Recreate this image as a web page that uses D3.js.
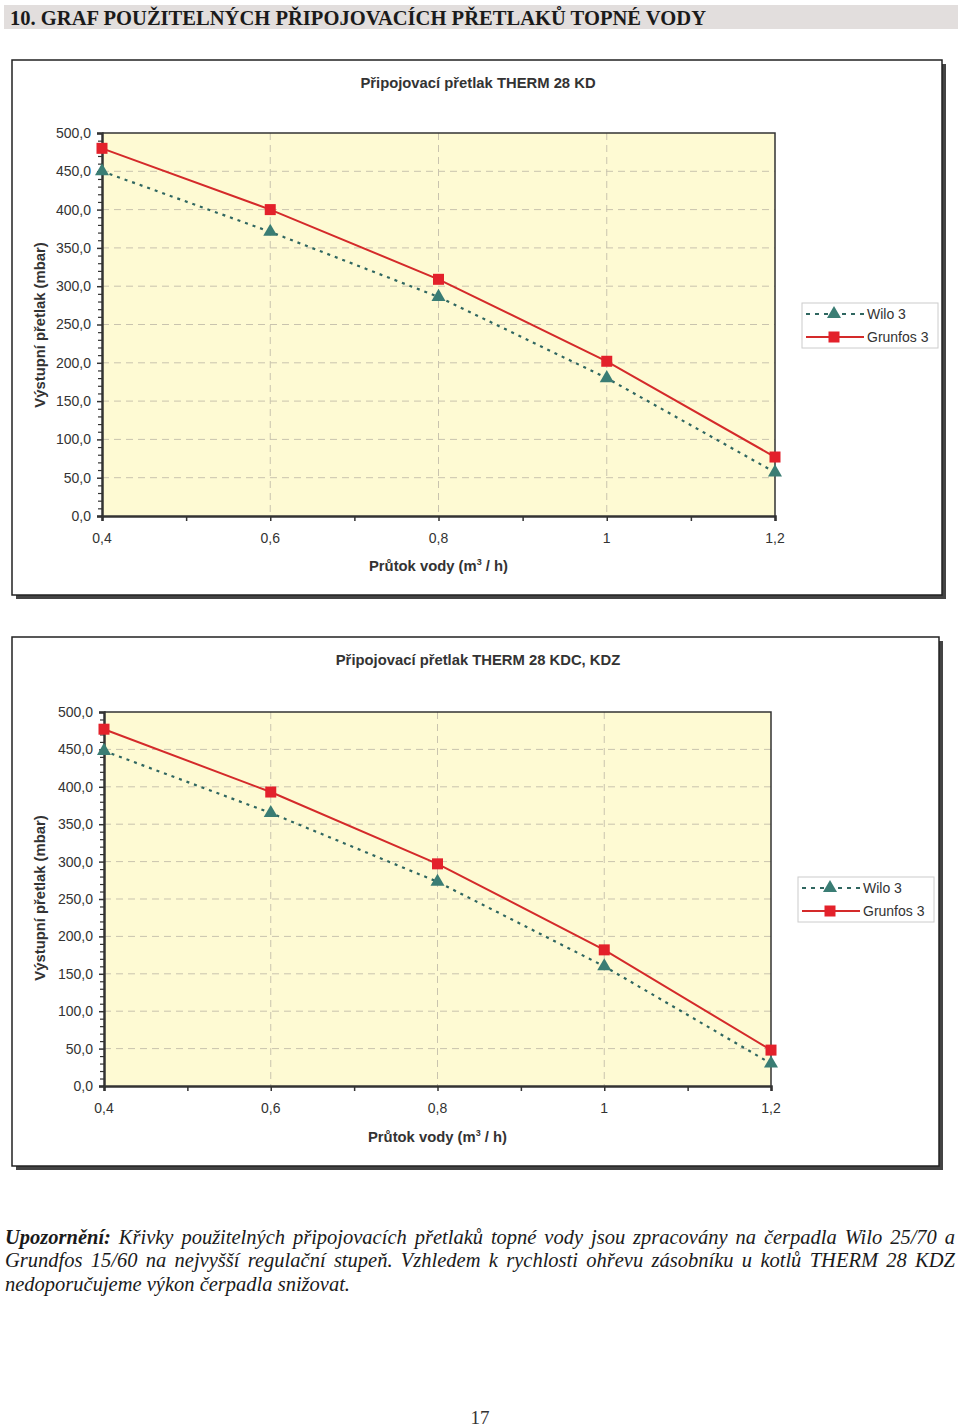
<!DOCTYPE html>
<html><head><meta charset="utf-8">
<script src="https://cdn.jsdelivr.net/npm/d3@7"></script>
<style>html,body{margin:0;padding:0;background:#fff}svg{display:block}</style>
</head><body>
<script>
// ---- data ----
const xValues = [0.4, 0.6, 0.8, 1.0, 1.2];
const wilo1 = [450, 371, 286, 180, 57];
const grunfos1 = [480, 400, 309, 202, 77];
const wilo2 = [448, 365, 273, 160, 30];
const grunfos2 = [477, 393, 297, 182, 48];
const yTicks = [0, 50, 100, 150, 200, 250, 300, 350, 400, 450, 500];
const xTicks = [0.4, 0.6, 0.8, 1.0, 1.2];
const xTickLabels = ["0,4", "0,6", "0,8", "1", "1,2"];
const seriesNames = ["Wilo 3", "Grunfos 3"];
const titles = ["Připojovací přetlak THERM 28 KD", "Připojovací přetlak THERM 28 KDC, KDZ"];
const yLabel = "Výstupní přetlak (mbar)";
const headerText = "10. GRAF POUŽITELNÝCH PŘIPOJOVACÍCH PŘETLAKŮ TOPNÉ VODY";
const noteLines = [
  ["Upozornění:", "Křivky použitelných připojovacích přetlaků topné vody jsou zpracovány na čerpadla Wilo 25/70 a"],
  ["", "Grundfos 15/60 na nejvyšší regulační stupeň. Vzhledem k rychlosti ohřevu zásobníku u kotlů THERM 28 KDZ"],
  ["", "nedoporučujeme výkon čerpadla snižovat."]
];
const pageNumber = "17";

const W = 960, H = 1427;
const svg = d3.select("body").append("svg").attr("width", W).attr("height", H);

// header
svg.append("rect").attr("x", 4).attr("y", 5).attr("width", 954).attr("height", 24).attr("fill", "#e2dedd");
svg.append("text").attr("x", 10).attr("y", 25).text(headerText)
  .attr("font-family", "Liberation Serif, Times New Roman, serif").attr("font-size", 22).attr("font-weight", "bold")
  .attr("fill", "#1a1a1a").attr("textLength", 696).attr("lengthAdjust", "spacingAndGlyphs");

const SANS = "Liberation Sans, Arial, sans-serif";
const TXT = "#333";
const RED = "#e3212b", REDLINE = "#d42a2a", TEAL = "#3a7d74", TEALLINE = "#2f6660";

const charts = [
  {frame: {x: 12, y: 60, w: 930, h: 535}, plot: {l: 102, r: 775, t: 133, b: 516},
   titleY: 88, xLabY: 543, xTitleY: 571, yTitleY: 325, legend: {x: 802, y: 303},
   wilo: wilo1, grunfos: grunfos1, title: titles[0]},
  {frame: {x: 12, y: 637, w: 927, h: 529}, plot: {l: 104, r: 771, t: 712, b: 1086},
   titleY: 665, xLabY: 1113, xTitleY: 1142, yTitleY: 898, legend: {x: 798, y: 877},
   wilo: wilo2, grunfos: grunfos2, title: titles[1]}
];

charts.forEach(c => {
  const g = svg.append("g");
  const f = c.frame, p = c.plot;
  g.append("rect").attr("x", f.x + 4).attr("y", f.y + 4).attr("width", f.w).attr("height", f.h).attr("fill", "#444");
  g.append("rect").attr("x", f.x).attr("y", f.y).attr("width", f.w).attr("height", f.h)
    .attr("fill", "#fff").attr("stroke", "#222").attr("stroke-width", 1.5);

  const x = d3.scaleLinear().domain([0.4, 1.2]).range([p.l, p.r]);
  const y = d3.scaleLinear().domain([0, 500]).range([p.b, p.t]);

  g.append("rect").attr("x", p.l).attr("y", p.t).attr("width", p.r - p.l).attr("height", p.b - p.t).attr("fill", "#fefad3");

  // grid
  g.append("g").selectAll("line").data(yTicks.filter(v => v > 0 && v < 500)).join("line")
    .attr("x1", p.l).attr("x2", p.r).attr("y1", d => y(d)).attr("y2", d => y(d))
    .attr("stroke", "#c9c3ae").attr("stroke-width", 1).attr("stroke-dasharray", "7,5");
  g.append("g").selectAll("line").data(xTicks.filter(v => v > 0.45 && v < 1.15)).join("line")
    .attr("x1", d => x(d)).attr("x2", d => x(d)).attr("y1", p.t).attr("y2", p.b)
    .attr("stroke", "#c9c3ae").attr("stroke-width", 1).attr("stroke-dasharray", "7,5");

  // plot border top/right
  g.append("path").attr("d", `M${p.l},${p.t}H${p.r}V${p.b}`).attr("fill", "none").attr("stroke", "#333").attr("stroke-width", 1.5);

  // y axis
  const yAxis = d3.axisLeft(y).tickValues(yTicks).tickFormat(d => d3.format(".1f")(d).replace(".", ",")).tickSize(5).tickPadding(6);
  const ya = g.append("g").attr("transform", `translate(${p.l},0)`).call(yAxis);
  ya.select(".domain").attr("stroke", "#333").attr("stroke-width", 2.5);
  ya.selectAll(".tick line").attr("stroke", "#333").attr("stroke-width", 1.5);
  ya.selectAll(".tick text").attr("font-family", SANS).attr("font-size", 14).attr("fill", TXT);
  const minorY = d3.range(0, 501, 10).filter(v => v % 50 !== 0);
  const yMinor = d3.axisLeft(y).tickValues(minorY).tickFormat("").tickSize(4);
  const ym = g.append("g").attr("transform", `translate(${p.l},0)`).call(yMinor);
  ym.select(".domain").remove();
  ym.selectAll(".tick line").attr("stroke", "#333").attr("stroke-width", 1.2);

  // x axis
  const xAxis = d3.axisBottom(x).tickValues(d3.range(0.4, 1.2001, 0.1)).tickFormat("").tickSize(5);
  const xa = g.append("g").attr("transform", `translate(0,${p.b})`).call(xAxis);
  xa.select(".domain").attr("stroke", "#333").attr("stroke-width", 2.5);
  xa.selectAll(".tick line").attr("stroke", "#333").attr("stroke-width", 1.5);
  g.append("g").selectAll("text").data(xTicks).join("text")
    .attr("x", d => x(d)).attr("y", c.xLabY).attr("text-anchor", "middle")
    .attr("font-family", SANS).attr("font-size", 14).attr("fill", TXT)
    .text((d, i) => xTickLabels[i]);

  // titles
  g.append("text").attr("x", 478).attr("y", c.titleY).attr("text-anchor", "middle")
    .attr("font-family", SANS).attr("font-size", 14.8).attr("font-weight", "bold").attr("fill", TXT).text(c.title);
  const xt = g.append("text").attr("x", (p.l + p.r) / 2).attr("y", c.xTitleY).attr("text-anchor", "middle")
    .attr("font-family", SANS).attr("font-size", 14.8).attr("font-weight", "bold").attr("fill", TXT);
  xt.append("tspan").text("Průtok vody (m");
  xt.append("tspan").attr("font-size", 9).attr("dy", -6).text("3");
  xt.append("tspan").attr("dy", 6).text(" / h)");
  g.append("text").attr("transform", `translate(45,${c.yTitleY}) rotate(-90)`).attr("text-anchor", "middle")
    .attr("font-family", SANS).attr("font-size", 14.8).attr("font-weight", "bold").attr("fill", TXT).text(yLabel);

  // lines
  const line = d3.line().x(d => x(d[0])).y(d => y(d[1]));
  const wd = xValues.map((v, i) => [v, c.wilo[i]]);
  const gd = xValues.map((v, i) => [v, c.grunfos[i]]);
  g.append("path").attr("d", line(wd)).attr("fill", "none").attr("stroke", TEALLINE).attr("stroke-width", 2.2).attr("stroke-dasharray", "3,5");
  g.append("path").attr("d", line(gd)).attr("fill", "none").attr("stroke", REDLINE).attr("stroke-width", 2);
  const tri = d3.symbol().type(d3.symbolTriangle).size(85);
  g.append("g").selectAll("path").data(wd).join("path")
    .attr("transform", d => `translate(${x(d[0])},${y(d[1])})`).attr("d", tri).attr("fill", TEAL);
  g.append("g").selectAll("rect").data(gd).join("rect")
    .attr("x", d => x(d[0]) - 5.5).attr("y", d => y(d[1]) - 5.5).attr("width", 11).attr("height", 11).attr("fill", RED);

  // legend
  const L = c.legend;
  const lg = g.append("g").attr("transform", `translate(${L.x},${L.y})`);
  lg.append("rect").attr("width", 136).attr("height", 45).attr("fill", "#fff").attr("stroke", "#ccc").attr("stroke-width", 1);
  lg.append("line").attr("x1", 4).attr("x2", 62).attr("y1", 11).attr("y2", 11).attr("stroke", TEALLINE).attr("stroke-width", 2).attr("stroke-dasharray", "4,5");
  lg.append("path").attr("transform", "translate(32,11)").attr("d", tri).attr("fill", TEAL);
  lg.append("line").attr("x1", 4).attr("x2", 62).attr("y1", 34).attr("y2", 34).attr("stroke", REDLINE).attr("stroke-width", 2);
  lg.append("rect").attr("x", 26.5).attr("y", 28.5).attr("width", 11).attr("height", 11).attr("fill", RED);
  lg.append("text").attr("x", 65).attr("y", 16).attr("font-family", SANS).attr("font-size", 14).attr("fill", TXT).text(seriesNames[0]);
  lg.append("text").attr("x", 65).attr("y", 39).attr("font-family", SANS).attr("font-size", 14).attr("fill", TXT).text(seriesNames[1]);
});

// note paragraph (justified lines 1 and 2)
const SERIF = "Liberation Serif, Times New Roman, serif";
const noteY = [1244, 1267, 1291];
const left = 5, right = 955;
const fs = 20.5;
noteLines.forEach((ln, li) => {
  const words = [];
  if (ln[0]) words.push({t: ln[0], bold: true});
  ln[1].split(" ").forEach(w => words.push({t: w, bold: false}));
  const tg = svg.append("g");
  const els = words.map(w => tg.append("text").attr("y", noteY[li]).attr("font-family", SERIF)
    .attr("font-size", fs).attr("font-style", "italic").attr("font-weight", w.bold ? "bold" : "normal")
    .attr("fill", "#1a1a1a").text(w.t));
  const widths = els.map(e => e.node().getComputedTextLength());
  const total = d3.sum(widths);
  const justify = li < 2;
  const gap = justify ? (right - left - total) / (words.length - 1) : fs * 0.25;
  let cx = left;
  els.forEach((e, i) => { e.attr("x", cx); cx += widths[i] + gap; });
});

svg.append("text").attr("x", 480).attr("y", 1424).attr("text-anchor", "middle")
  .attr("font-family", SERIF).attr("font-size", 19).attr("fill", "#333").text(pageNumber);
</script>
</body></html>
